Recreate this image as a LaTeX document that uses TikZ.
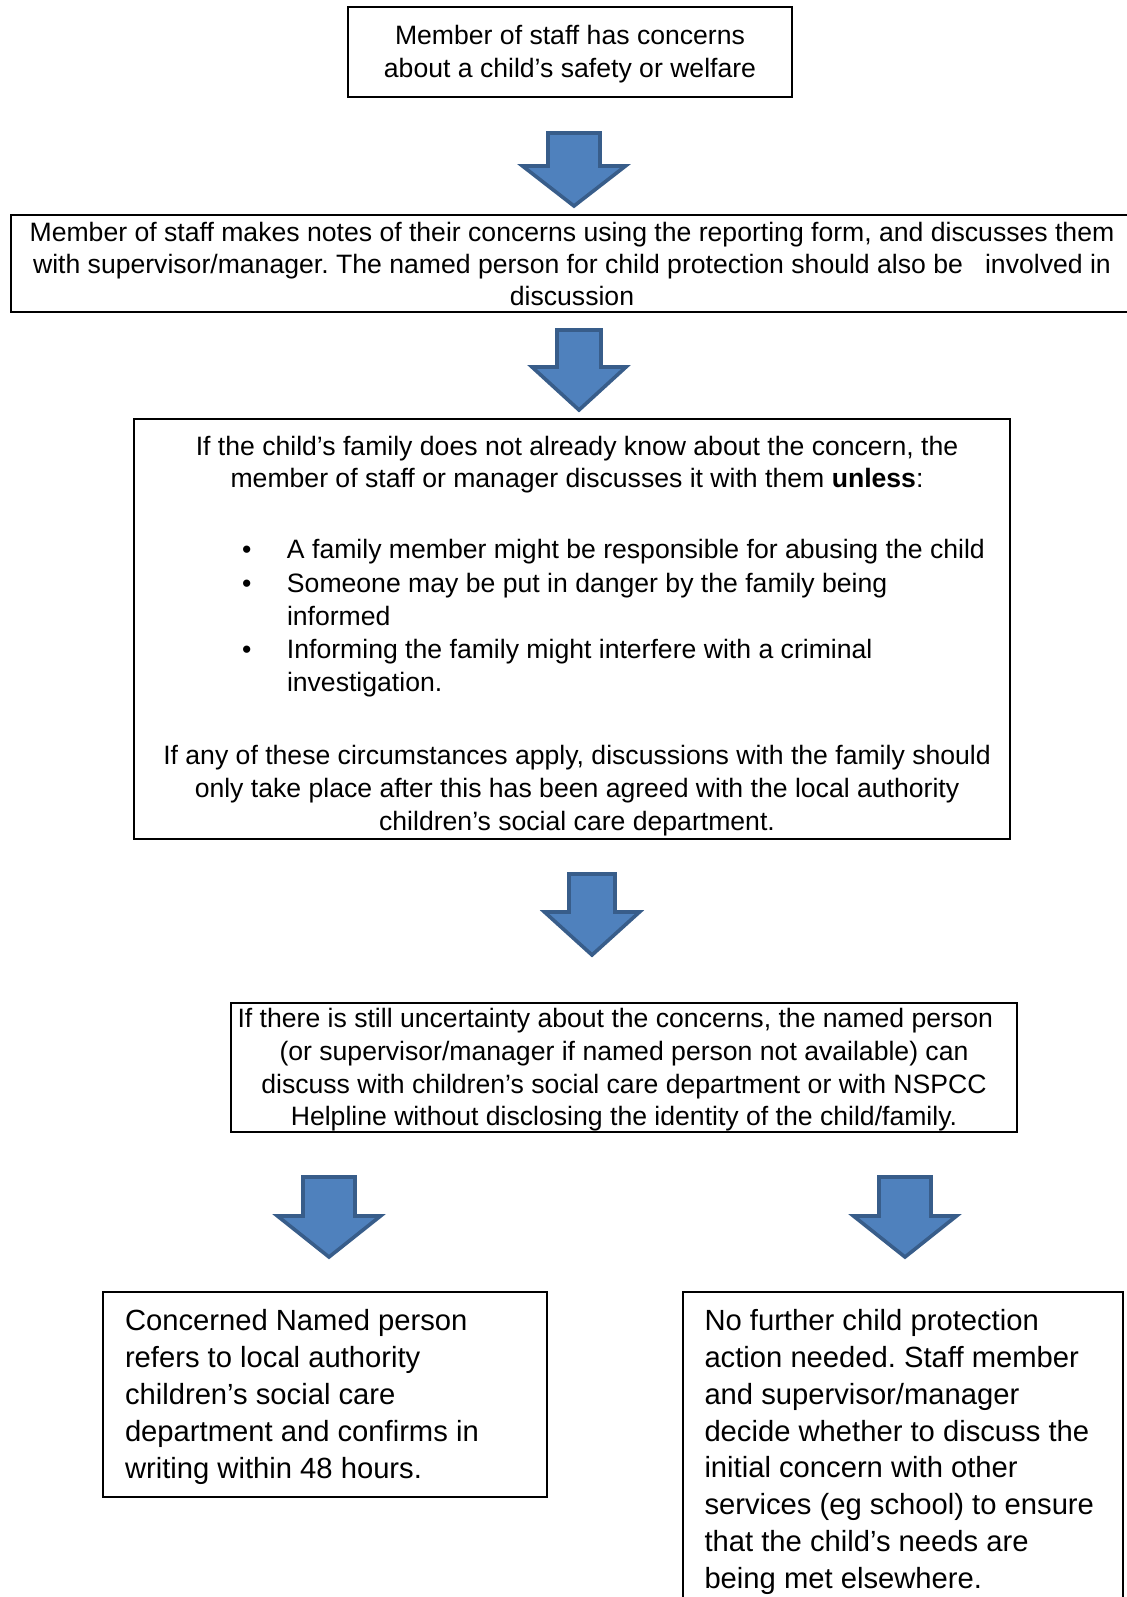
\documentclass[tikz,border=0pt]{standalone}
\usepackage{fontspec}
\setmainfont{Liberation Sans}
\frenchspacing
\definecolor{arrowfill}{HTML}{4F81BD}
\definecolor{arrowline}{HTML}{385D8A}
\tikzset{
  frame/.style={draw, line width=0.9pt, inner sep=0pt, outer sep=0pt},
  txt/.style={inner sep=0pt, outer sep=0pt, font=\fontsize{13.3}{16.2}\selectfont},
  bigtxt/.style={inner sep=0pt, outer sep=0pt, font=\fontsize{14.6}{18.4}\selectfont, align=left},
  arrowsty/.style={fill=arrowfill, draw=arrowline, line width=1.8pt, line join=miter},
  pics/barrow/.style n args={4}{code={
    \filldraw[arrowsty] (-#1/2,0) -- (#1/2,0) -- (#1/2,#3-#4) -- (#2/2,#3-#4) -- (0,#3)
      -- (-#2/2,#3-#4) -- (-#1/2,#3-#4) -- cycle;
  }}
}
\begin{document}
\begin{tikzpicture}[x={(0.5pt,0)}, y={(0,-0.5pt)}]
\useasboundingbox (0,0) rectangle (1126,1597);

% boxes
\node[frame, minimum width=222pt, minimum height=45pt] (b1) at (570,52) {};
\node[frame, minimum width=562pt, minimum height=48.5pt] (b2) at (573,263.5) {};
\node[frame, minimum width=438pt, minimum height=210pt] (b3) at (572,629) {};
\node[frame, minimum width=393pt, minimum height=64.5pt] (b4) at (624,1067.5) {};
\node[frame, minimum width=222pt, minimum height=102.5pt] (b5) at (325,1394.5) {};
\node[frame, minimum width=220pt, minimum height=164pt] (b6) at (903,1456) {};

% texts
\node[txt, align=center, font=\fontsize{13.3}{16.8}\selectfont] (t1) at (570,54)
  {Member of staff has concerns\\about a child’s safety or welfare};
\node[txt, align=center, font=\fontsize{13.3}{15.8}\selectfont] (t2) at (572,264)
  {Member of staff makes notes of their concerns using the reporting form, and discusses them\\
   with supervisor/manager. The named person for child protection should also be\ \ \ involved in\\
   discussion};
\node[txt, align=center, font=\fontsize{13.3}{15.8}\selectfont] (t3a) at (577,464.5)
  {If the child’s family does not already know about the concern, the\\
   member of staff or manager discusses it with them \textbf{unless}:};
\node[txt, align=left, anchor=west, font=\fontsize{13.3}{16.6}\selectfont] (t3b) at (242,618.5)
  {\makebox[22.5pt][l]{•}A family member might be responsible for abusing the child\\
   \makebox[22.5pt][l]{•}Someone may be put in danger by the family being\\
   \hspace*{22.5pt}informed\\
   \makebox[22.5pt][l]{•}Informing the family might interfere with a criminal\\
   \hspace*{22.5pt}investigation.};
\node[txt, align=center, font=\fontsize{13.3}{16.5}\selectfont] (t3c) at (577,790.5)
  {If any of these circumstances apply, discussions with the family should\\
   only take place after this has been agreed with the local authority\\
   children’s social care department.};
\node[txt, align=center, font=\fontsize{13.3}{16.3}\selectfont] (t4) at (624,1070)
  {If there is still uncertainty about the concerns, the named person\kern8.7pt\\
   (or supervisor/manager if named person not available) can\\
   discuss with children’s social care department or with NSPCC\\
   Helpline without disclosing the identity of the child/family.};
\node[bigtxt, anchor=west] (t5) at (125,1397)
  {Concerned Named person\\
   refers to local authority\\
   children’s social care\\
   department and confirms in\\
   writing within 48 hours.};
\node[bigtxt, anchor=west] (t6) at (704.5,1452)
  {No further child protection\\
   action needed. Staff member\\
   and supervisor/manager\\
   decide whether to discuss the\\
   initial concern with other\\
   services (eg school) to ensure\\
   that the child’s needs are\\
   being met elsewhere.};

% block arrows
\pic (a1) at (574,133) {barrow={52}{103}{73}{40}};
\pic (a2) at (579,330) {barrow={44}{94}{80}{43}};
\pic (a3) at (592,874) {barrow={46}{95}{81}{43}};
\pic (a4) at (329,1177) {barrow={52}{103}{80}{41}};
\pic (a5) at (905,1177) {barrow={52}{103}{80}{41}};
\end{tikzpicture}
\end{document}
